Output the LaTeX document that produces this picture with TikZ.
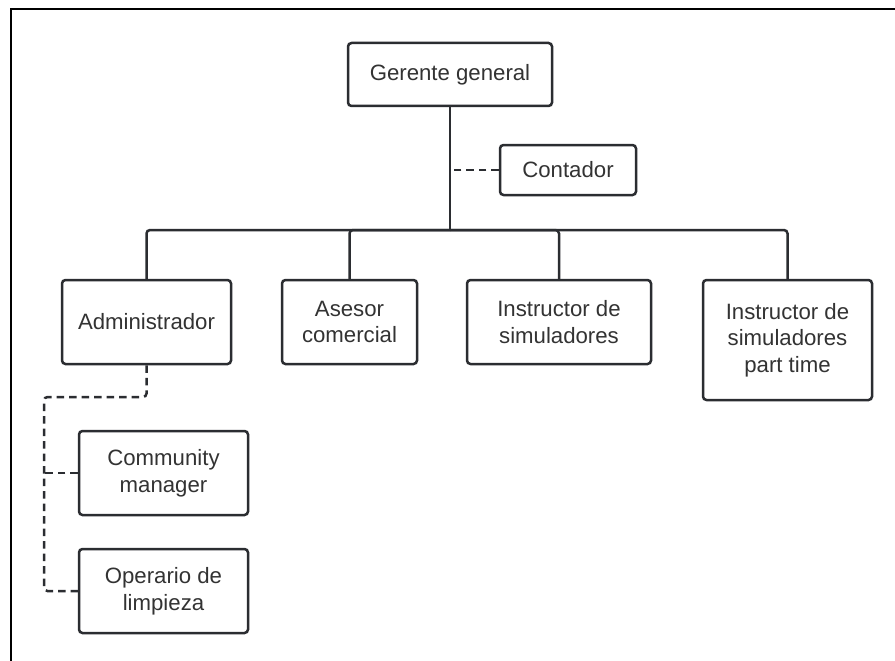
\documentclass[tikz,border=0pt]{standalone}
\usepackage{fontspec}
\setmainfont{Liberation Sans}
\begin{document}
\begin{tikzpicture}[x=1pt,y=-1pt,
  every node/.style={font=\fontsize{22.2}{26.7}\selectfont},
  orgbox/.style={draw=boxline, line width=2.5pt, rounded corners=3.5pt, fill=white,
    text=inktext, align=center, inner sep=0pt},
  solidlink/.style={draw=boxline, line width=2.5pt, rounded corners=3.5pt},
  dashlink/.style={draw=boxline, line width=2.5pt, dash pattern=on 7.5pt off 5pt, rounded corners=3.5pt}]
\definecolor{boxline}{HTML}{2B2D31}
\definecolor{inktext}{HTML}{333333}
\useasboundingbox (0,0) rectangle (895,661);
\fill[white] (0,0) rectangle (895,661);
% outer frame (only top and left edges fall inside the page)
\draw[black, line width=2pt] (11,670) -- (11,9) -- (905,9);

% boxes
\node[orgbox, minimum width=204pt, minimum height=63pt] (ger) at (450,74.5) {Gerente general};
\node[orgbox, minimum width=136pt, minimum height=50pt] (cont) at (568,170) {Contador};
\node[orgbox, minimum width=169pt, minimum height=84pt] (adm) at (146.5,322) {Administrador};
\node[orgbox, minimum width=135pt, minimum height=84pt] (ases) at (349.5,322) {Asesor\\comercial};
\node[orgbox, minimum width=184pt, minimum height=84pt] (inst) at (559,322) {Instructor de\\simuladores};
\node[orgbox, minimum width=169pt, minimum height=120pt] (instp) at (787.5,340) {Instructor de\\simuladores\\part time};
\node[orgbox, minimum width=169pt, minimum height=84pt] (cm) at (163.5,473) {Community\\manager};
\node[orgbox, minimum width=169pt, minimum height=84pt] (op) at (163.5,591) {Operario de\\limpieza};

% hierarchy lines
\coordinate (bus) at (450,230);
\coordinate (lane) at (44,397);
\draw[solidlink] (ger.south) -- (bus);
\draw[solidlink] (bus) -| (adm.north);
\draw[solidlink] (bus) -| (ases.north);
\draw[solidlink] (bus) -| (inst.north);
\draw[solidlink] (bus) -| (instp.north);
\draw[dashlink] (cont.west) -- (cont.west -| ger.south);
\draw[dashlink] (adm.south) |- (lane) |- (op.west);
\draw[dashlink] (cm.west) -- (cm.west -| lane);
\end{tikzpicture}
\end{document}
